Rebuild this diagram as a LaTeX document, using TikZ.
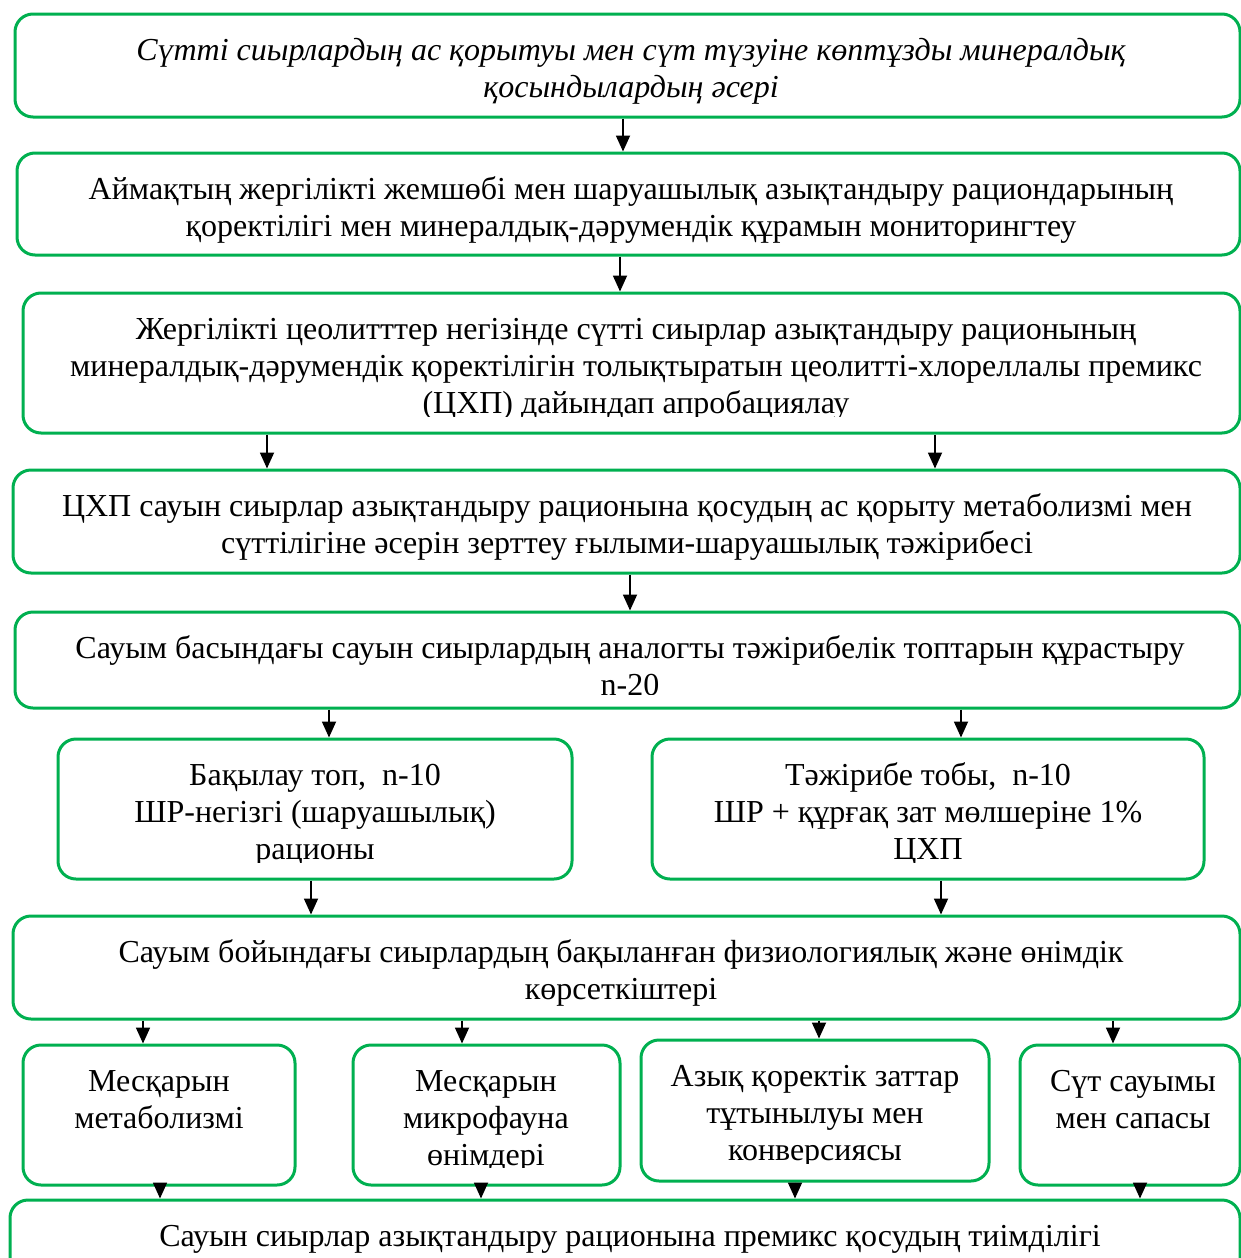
\documentclass[tikz,border=0pt]{standalone}
\usepackage{fontspec}
\setmainfont{Liberation Serif}
\usetikzlibrary{arrows.meta}
\definecolor{kgreen}{RGB}{0,176,80}
\newcommand\kbox[9]{%
  \node[box, minimum width={(#4-#2)*1pt}, minimum height={(#5-#3)*1pt}] (#1) at ({(#2+#4)/2},{(#3+#5)/2}) {};
  \begin{scope}
    \clip (#2,#3) rectangle (#4,{#5-#8});
    \node[txt,#7] (#1t) at (#6,{#3+20}) {\strut #9};
  \end{scope}}
\begin{document}
\begin{tikzpicture}[x=1pt,y=-1pt,
  box/.style={draw=kgreen, line width=3pt, rounded corners=18pt, inner sep=0pt, fill=white},
  txt/.style={align=center, inner sep=0pt, font=\fontsize{32}{37}\selectfont, anchor=north},
  arr/.style={line width=1.8pt, -{Triangle[width=14pt,length=16pt]}}]
\useasboundingbox (0,0) rectangle (1241,1258);
\fill[white] (0,0) rectangle (1241,1258);

\kbox{b1}{15}{14}{1240}{117}{631}{font=\fontsize{32}{37}\selectfont\itshape}{0}{Сүтті сиырлардың ас қорытуы мен сүт түзуіне көптұзды минералдық\\ қосындылардың әсері}
\kbox{b2}{17}{153}{1240}{255}{631}{}{0}{Аймақтың жергілікті жемшөбі мен шаруашылық азықтандыру рациондарының\\ қоректілігі мен минералдық-дәрумендік құрамын мониторингтеу}
\kbox{b3}{23}{293}{1240}{433}{636}{}{17}{Жергілікті цеолитттер негізінде сүтті сиырлар азықтандыру рационының\\ минералдық-дәрумендік қоректілігін толықтыратын цеолитті-хлореллалы премикс\\ (ЦХП) дайындап апробациялау}
\kbox{b4}{13}{470}{1240}{573}{627}{}{0}{ЦХП сауын сиырлар азықтандыру рационына қосудың ас қорыту метаболизмі мен\\ сүттілігіне әсерін зерттеу ғылыми-шаруашылық тәжірибесі}
\kbox{b5}{15}{612}{1240}{708}{630}{}{14}{Сауым басындағы сауын сиырлардың аналогты тәжірибелік топтарын құрастыру\\ n-20}
\kbox{b6a}{58}{739}{572}{879}{315}{}{17}{Бақылау топ,~ n-10\\ ШР-негізгі (шаруашылық)\\ рационы}
\kbox{b6b}{652}{739}{1204}{879}{928}{}{17}{Тәжірибе тобы,~ n-10\\ ШР + құрғақ зат мөлшеріне 1\%\\ ЦХП}
\kbox{b7}{13}{916}{1240}{1019}{621}{}{0}{Сауым бойындағы сиырлардың бақыланған физиологиялық және өнімдік\\ көрсеткіштері}
\kbox{b8a}{23}{1045}{295}{1185}{159}{}{0}{Месқарын\\ метаболизмі}
\kbox{b8b}{353}{1045}{620}{1185}{486}{}{18}{Месқарын\\ микрофауна\\ өнімдері}
\kbox{b8c}{641}{1040}{989}{1181}{815}{}{18}{Азық қоректік заттар\\ тұтынылуы мен\\ конверсиясы}
\kbox{b8d}{1020}{1045}{1240}{1185}{1133}{}{0}{Сүт сауымы\\ мен сапасы}
\kbox{b9}{10}{1200}{1240}{1320}{630}{}{0}{Сауын сиырлар азықтандыру рационына премикс қосудың тиімділігі}

\draw[arr] (b1.south -| 623,0) -- (b2.north -| 623,0);
\draw[arr] (b2.south -| 620,0) -- (b3.north -| 620,0);
\draw[arr] (b3.south -| 267,0) -- (b4.north -| 267,0);
\draw[arr] (b3.south -| 935,0) -- (b4.north -| 935,0);
\draw[arr] (b4.south -| 630,0) -- (b5.north -| 630,0);
\draw[arr] (b5.south -| 329,0) -- (b6a.north -| 329,0);
\draw[arr] (b5.south -| 961,0) -- (b6b.north -| 961,0);
\draw[arr] (b6a.south -| 311,0) -- (b7.north -| 311,0);
\draw[arr] (b6b.south -| 941,0) -- (b7.north -| 941,0);
\draw[arr] (b7.south -| 143,0) -- (b8a.north -| 143,0);
\draw[arr] (b7.south -| 462,0) -- (b8b.north -| 462,0);
\draw[arr] (b7.south -| 819,0) -- (b8c.north -| 819,0);
\draw[arr] (b7.south -| 1113,0) -- (b8d.north -| 1113,0);
\draw[arr] (b8a.south -| 160,0) -- (b9.north -| 160,0);
\draw[arr] (b8b.south -| 481,0) -- (b9.north -| 481,0);
\draw[arr] (b8c.south -| 795,0) -- (b9.north -| 795,0);
\draw[arr] (b8d.south -| 1140,0) -- (b9.north -| 1140,0);
\end{tikzpicture}
\end{document}
